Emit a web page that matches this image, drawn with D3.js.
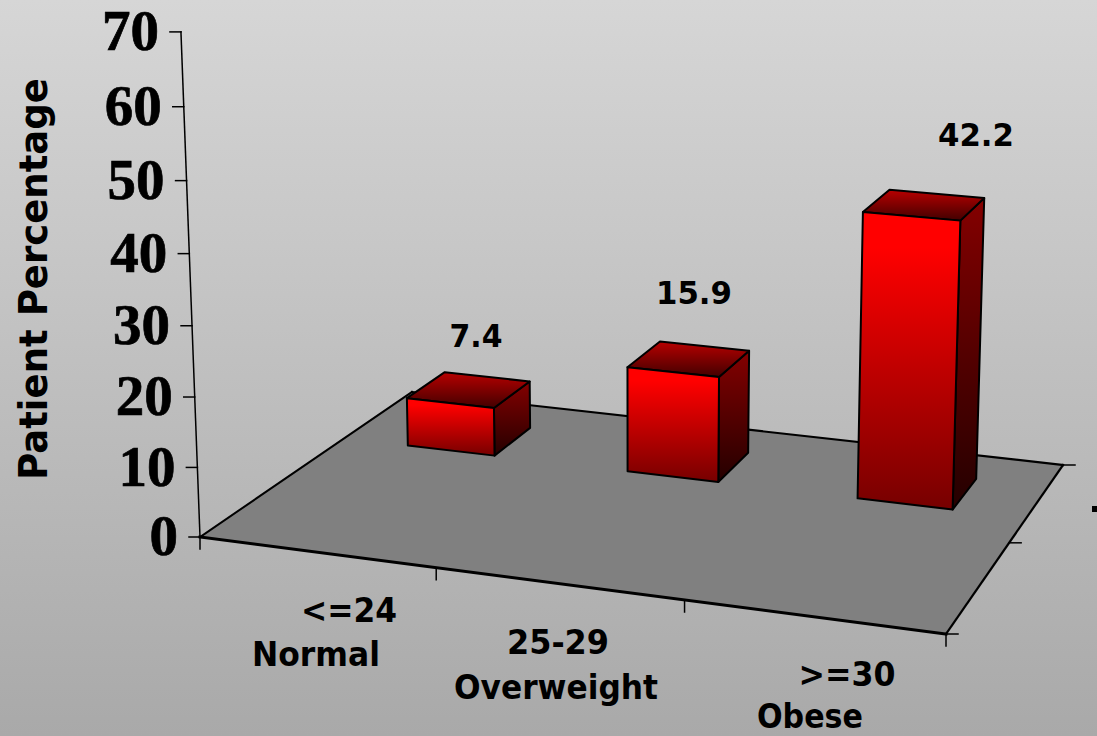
<!DOCTYPE html>
<html>
<head>
<meta charset="utf-8">
<script src="https://cdn.jsdelivr.net/npm/d3@7"></script>
<style>
  html, body { margin: 0; padding: 0; background: #c0c0c0; }
  svg { display: block; }
  text { fill: #000; }
</style>
</head>
<body>
<svg id="chart" width="1097" height="736"></svg>
<script>
// Chart data
const categories = ["<=24", "25-29", ">=30"];
const groupNames = ["Normal", "Overweight", "Obese"];
const patientPct = [7.4, 15.9, 42.2];
const yTicks = [0, 10, 20, 30, 40, 50, 60, 70];

// Page layout and camera
const W = 1097, H = 736;
const floorA = [200, 537], floorB = [946, 634], floorC = [1063, 465], floorD = [412, 392];
const verticalVanish = [640, 12200];
const perUnitWeight = 5.93e-4;

// Depth range occupied by the bars on the floor
const depthFront = 0.65, depthBack = 0.85;

const uScale = d3.scaleBand().domain(categories).range([0, 1]).paddingInner(0.6).paddingOuter(0.3);
const hScale = d3.scaleLinear().domain([0, 70]).range([0, 70 * perUnitWeight]);

// Homography from the unit square to the floor quadrilateral
const homography = (() => {
  const dx1 = floorB[0] - floorC[0], dx2 = floorD[0] - floorC[0];
  const dy1 = floorB[1] - floorC[1], dy2 = floorD[1] - floorC[1];
  const sx = floorA[0] - floorB[0] + floorC[0] - floorD[0];
  const sy = floorA[1] - floorB[1] + floorC[1] - floorD[1];
  const det = dx1 * dy2 - dx2 * dy1;
  const g = (sx * dy2 - dx2 * sy) / det;
  const h = (dx1 * sy - sx * dy1) / det;
  return {
    a: floorB[0] * (1 + g) - floorA[0], b: floorD[0] * (1 + h) - floorA[0], c: floorA[0],
    d: floorB[1] * (1 + g) - floorA[1], e: floorD[1] * (1 + h) - floorA[1], f: floorA[1],
    g, h
  };
})();

// Projects a floor position (u across, v into depth) at a data height to the page
function project(u, v, value = 0) {
  const m = homography;
  const w = m.g * u + m.h * v + 1;
  const px = m.a * u + m.b * v + m.c;
  const py = m.d * u + m.e * v + m.f;
  const k = hScale(value);
  return [
    (px - k * verticalVanish[0]) / (w - k),
    (py - k * verticalVanish[1]) / (w - k)
  ];
}

const svg = d3.select("#chart");
const defs = svg.append("defs");

function vGradient(id, stops) {
  const g = defs.append("linearGradient").attr("id", id)
    .attr("x1", 0).attr("y1", 0).attr("x2", 0).attr("y2", 1);
  stops.forEach(([o, c]) => g.append("stop").attr("offset", o).attr("stop-color", c));
}
vGradient("bg", [[0, "#d6d6d6"], [1, "#a9a9a9"]]);
vGradient("frontFace", [[0, "#ff0000"], [0.12, "#ff0000"], [1, "#760000"]]);
vGradient("topFace", [[0, "#b80000"], [1, "#420000"]]);
vGradient("sideFace", [[0, "#840000"], [1, "#240000"]]);

svg.append("rect").attr("width", W).attr("height", H).attr("fill", "url(#bg)");

const path = pts => "M" + pts.map(p => p.join(",")).join("L") + "Z";
const seg = (g, a, b, sw) => g.append("line")
  .attr("x1", a[0]).attr("y1", a[1]).attr("x2", b[0]).attr("y2", b[1])
  .attr("stroke", "#000").attr("stroke-width", sw).attr("stroke-linecap", "square");

// Floor
const floor = svg.append("g");
floor.append("path")
  .attr("d", path([project(0, 0), project(1, 0), project(1, 1), project(0, 1)]))
  .attr("fill", "#808080");
seg(floor, project(0, 0), project(0, 1), 2);
seg(floor, project(0, 1), project(1, 1), 2.2);
seg(floor, project(1, 1), project(1, 0), 2.2);

// Value axis standing on the near left corner
const axis = svg.append("g");
seg(axis, project(0, 0, 0), project(0, 0, 70), 1.5);
yTicks.forEach(t => {
  const p = project(0, 0, t);
  seg(axis, [p[0] - 11, p[1]], p, 1.5);
  axis.append("text")
    .attr("x", p[0] - 22).attr("y", p[1])
    .attr("dy", "0.32em")
    .attr("text-anchor", "end")
    .attr("font-family", "'Liberation Serif', serif")
    .attr("font-weight", "bold")
    .attr("font-size", 57)
    .attr("stroke", "#000").attr("stroke-width", 0.7)
    .text(t);
});

// Category axis along the front edge, depth ticks on the right edge
const edges = svg.append("g");
const boundaries = [0, ...categories.map(c => uScale(c) + uScale.bandwidth() / 2 + uScale.step() / 2)];
boundaries.forEach(u => {
  const p = project(u, 0);
  seg(edges, p, [p[0], p[1] + 12], 1.5);
});
seg(edges, project(1, 0), [project(1, 0)[0] + 12, project(1, 0)[1]], 1.5);
[0.5, 1].forEach(v => {
  const p = project(1, v);
  seg(edges, p, [p[0] + 12, p[1]], 1.5);
});
seg(edges, project(0, 0), project(1, 0), 3);

// Bars, drawn back faces first
const bars = svg.append("g");
categories.forEach((c, i) => {
  const u0 = uScale(c) - 0.0015, u1 = u0 + uScale.bandwidth(), v = patientPct[i];
  const FLb = project(u0, depthFront), FRb = project(u1, depthFront), BRb = project(u1, depthBack);
  const FLt = project(u0, depthFront, v), FRt = project(u1, depthFront, v);
  const BRt = project(u1, depthBack, v), BLt = project(u0, depthBack, v);
  const g = bars.append("g")
    .attr("stroke", "#000").attr("stroke-width", 2).attr("stroke-linejoin", "round");
  g.append("path").attr("d", path([FRt, BRt, BRb, FRb])).attr("fill", "url(#sideFace)");
  g.append("path").attr("d", path([FLt, BLt, BRt, FRt])).attr("fill", "url(#topFace)");
  g.append("path").attr("d", path([FLt, FRt, FRb, FLb])).attr("fill", "url(#frontFace)");
});

const sans = "'DejaVu Sans', sans-serif";

// Value labels
const valueLabelAt = [[476, 347], [694, 304], [976, 146]];
const valueLabelLen = [53, 76, 76];
patientPct.forEach((v, i) => {
  svg.append("text")
    .attr("x", valueLabelAt[i][0]).attr("y", valueLabelAt[i][1])
    .attr("text-anchor", "middle")
    .attr("font-family", sans).attr("font-weight", "bold").attr("font-size", 32)
    .attr("textLength", valueLabelLen[i]).attr("lengthAdjust", "spacingAndGlyphs")
    .text(d3.format(".1f")(v));
});

// Two-line category labels
const rangeLabelAt = [[349, 622, 96], [558, 654, 102], [847, 686, 97]];
const groupLabelAt = [[316, 666, 128], [556, 699, 204], [810, 728, 106]];
const catLabel = (txt, [x, y, len]) => svg.append("text")
  .attr("x", x).attr("y", y)
  .attr("text-anchor", "middle")
  .attr("font-family", sans).attr("font-weight", "bold").attr("font-size", 33)
  .attr("textLength", len).attr("lengthAdjust", "spacingAndGlyphs")
  .text(txt);
categories.forEach((c, i) => catLabel(c, rangeLabelAt[i]));
groupNames.forEach((c, i) => catLabel(c, groupLabelAt[i]));

// Axis title
svg.append("text")
  .attr("transform", "translate(47,279) rotate(-90)")
  .attr("text-anchor", "middle")
  .attr("font-family", sans).attr("font-weight", "bold").attr("font-size", 39)
  .attr("textLength", 402).attr("lengthAdjust", "spacingAndGlyphs")
  .text("Patient Percentage");

// Clipped key marker at the page edge
svg.append("rect").attr("x", 1092).attr("y", 506).attr("width", 5).attr("height", 6).attr("fill", "#000");
</script>
</body>
</html>
